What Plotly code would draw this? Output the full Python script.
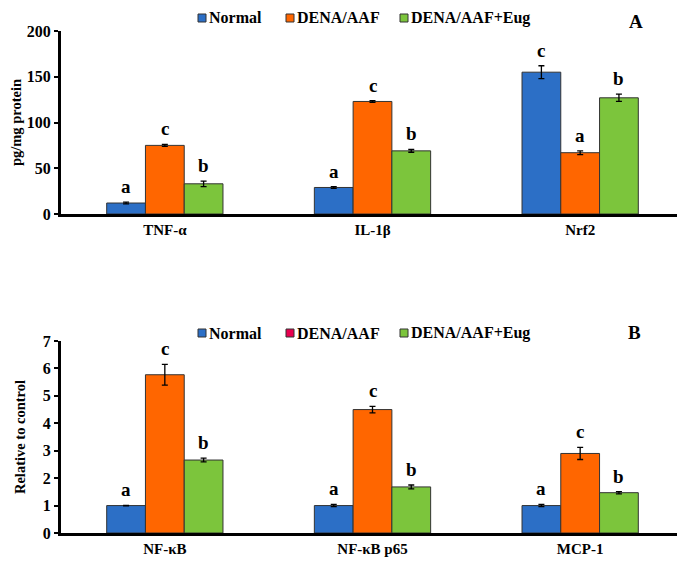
import plotly.graph_objects as go

categories_a = ["TNF-α", "IL-1β", "Nrf2"]
normal_a = [12, 29, 155]
dena_a = [75, 123, 67]
eug_a = [33, 69, 127]
normal_a_err = [1, 1, 7]
dena_a_err = [1, 1, 2]
eug_a_err = [3, 1.5, 4]
letters_normal_a = ["a", "a", "c"]
letters_dena_a = ["c", "c", "a"]
letters_eug_a = ["b", "b", "b"]

categories_b = ["NF-κB", "NF-κB p65", "MCP-1"]
normal_b = [1, 1, 1]
dena_b = [5.77, 4.5, 2.9]
eug_b = [2.66, 1.68, 1.47]
normal_b_err = [0.01, 0.04, 0.04]
dena_b_err = [0.38, 0.12, 0.22]
eug_b_err = [0.07, 0.07, 0.04]
letters_normal_b = ["a", "a", "a"]
letters_dena_b = ["c", "c", "c"]
letters_eug_b = ["b", "b", "b"]

series_names = ["Normal", "DENA/AAF", "DENA/AAF+Eug"]
colors = ["#2C6FC6", "#FF6600", "#7CC53C"]
legend_b_colors = ["#2C6FC6", "#E8004F", "#7CC53C"]

FONT = "Liberation Serif"
BARGAP = 0.44
OFF = 8  # page body margin offset
W, H = 685, 563
fig = go.Figure()


def px(x):
    return (x - OFF) / W


def py(y):
    return 1 - (y - OFF) / H


def add_panel(cats, vals, errs, xa, ya):
    for i, (name, v, e) in enumerate(zip(series_names, vals, errs)):
        fig.add_trace(go.Bar(
            x=cats, y=v, name=name, xaxis=xa, yaxis=ya,
            marker=dict(color=colors[i], line=dict(color="#333333", width=1)),
            error_y=dict(type="data", array=e, visible=True, color="black", thickness=1.3, width=3),
            showlegend=False,
        ))


add_panel(categories_a, [normal_a, dena_a, eug_a], [normal_a_err, dena_a_err, eug_a_err], "x", "y")
add_panel(categories_b, [normal_b, dena_b, eug_b], [normal_b_err, dena_b_err, eug_b_err], "x2", "y2")


def add_letters(cats, vals, errs, letters, xa, ya):
    bar_w = (1 - BARGAP) / 3
    for i in range(3):
        for j, c in enumerate(cats):
            fig.add_annotation(
                x=j + (i - 1) * bar_w, y=vals[i][j] + errs[i][j], xref=xa, yref=ya,
                text=letters[i][j], showarrow=False, yanchor="bottom", yshift=3,
                font=dict(family=FONT, size=19, color="black", weight="bold"),
            )


add_letters(categories_a, [normal_a, dena_a, eug_a], [normal_a_err, dena_a_err, eug_a_err],
            [letters_normal_a, letters_dena_a, letters_eug_a], "x", "y")
add_letters(categories_b, [normal_b, dena_b, eug_b], [normal_b_err, dena_b_err, eug_b_err],
            [letters_normal_b, letters_dena_b, letters_eug_b], "x2", "y2")


# legends (swatch + label), one per panel
legend_text_x = [208, 296, 410]
legf = dict(family=FONT, size=16, color="black", weight="bold")


def add_legend(ycen, swatch_colors):
    for name, col, tx in zip(series_names, swatch_colors, legend_text_x):
        fig.add_shape(type="rect", xref="paper", yref="paper",
                      x0=px(tx - 10), x1=px(tx - 2), y0=py(ycen + 4), y1=py(ycen - 4),
                      fillcolor=col, line=dict(color="#333333", width=1))
        fig.add_annotation(x=px(tx), y=py(ycen), xref="paper", yref="paper", text=name,
                           xanchor="left", yanchor="middle", showarrow=False, font=legf,
                           borderpad=0)


add_legend(18, colors)
add_legend(333, legend_b_colors)

xl, xr = (61 - OFF) / W, (684 - OFF) / W


def ydom(top, bottom):
    return [1 - (bottom - OFF) / H, 1 - (top - OFF) / H]


tickf = dict(family=FONT, size=16, color="black", weight="bold")
catf = dict(family=FONT, size=15, color="black", weight="bold")
titf = dict(family=FONT, size=14.5, color="black", weight="bold")
axis_common = dict(showline=True, linecolor="black", linewidth=3, showgrid=False, zeroline=False)

fig.update_layout(
    width=W, height=H, margin=dict(l=0, r=0, t=0, b=0),
    paper_bgcolor="white", plot_bgcolor="white",
    barmode="group", bargap=BARGAP, bargroupgap=0,
    font=dict(family=FONT, color="black"),
    showlegend=False,
    xaxis=dict(domain=[xl, xr], anchor="y", ticks="", automargin=False, tickfont=catf, **axis_common),
    yaxis=dict(domain=ydom(31, 214), anchor="x", range=[0, 200], dtick=50, ticks="outside",
               ticklen=4, tickwidth=2, tickcolor="black", automargin=False, tickfont=tickf,
               title=dict(text="pg/mg protein", font=titf, standoff=11),
               **axis_common),
    xaxis2=dict(domain=[xl, xr], anchor="y2", ticks="", automargin=False, tickfont=catf, **axis_common),
    yaxis2=dict(domain=ydom(341, 533), anchor="x2", range=[0, 7], dtick=1, ticks="outside",
                ticklen=4, tickwidth=2, tickcolor="black", automargin=False, tickfont=tickf,
                title=dict(text="Relative to control", font=titf, standoff=14),
                **axis_common),
)

fig.add_annotation(x=px(636), y=py(22), xref="paper", yref="paper", text="<b>A</b>",
                   xanchor="center", yanchor="middle",
                   showarrow=False, font=dict(family=FONT, size=19, color="black"))
fig.add_annotation(x=px(634), y=py(332), xref="paper", yref="paper", text="<b>B</b>",
                   xanchor="center", yanchor="middle",
                   showarrow=False, font=dict(family=FONT, size=19, color="black"))

fig.write_html("out.html")
